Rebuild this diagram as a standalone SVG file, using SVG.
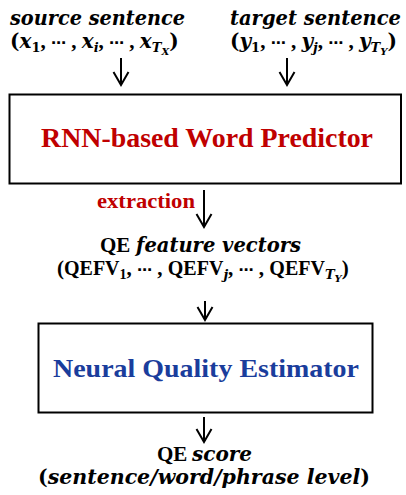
<svg xmlns="http://www.w3.org/2000/svg" width="406" height="495" viewBox="0 0 406 495">
<style>
.t{font-family:'DejaVu Serif','Liberation Serif',serif;font-weight:bold;fill:#000}
.u{font-family:'Liberation Serif','DejaVu Serif',serif;font-weight:bold}
.i{font-style:italic}
.s{font-size:13px}
.ss{font-size:10px}
.c{font-family:'Liberation Serif','DejaVu Serif',serif;font-size:21px}
.dots{font-family:'DejaVu Sans',sans-serif;font-size:15px}
.box{fill:#fff;stroke:#000;stroke-width:2}
.red{fill:#c00000}
.blue{fill:#1a3d9c}
.edge{fill:none;stroke:#000;stroke-width:2}
</style>
<defs>
<marker id="ah" markerUnits="userSpaceOnUse" markerWidth="30" markerHeight="30" refX="0" refY="0" orient="auto" overflow="visible">
<path d="M-13,-7.5 L0,0 L-13,7.5" fill="none" stroke="#000" stroke-width="2"/>
</marker>
</defs>
<g id="source">
<text class="t i" x="10" y="25" font-size="20" textLength="175" lengthAdjust="spacingAndGlyphs">source sentence</text>
<text class="t" x="10" y="48" font-size="20">(<tspan class="i">x</tspan><tspan class="s" dy="4">1</tspan><tspan class="c" dy="-4">, </tspan><tspan class="dots">⋯</tspan><tspan class="c"> , </tspan><tspan class="i">x</tspan><tspan class="s i" dy="4">i</tspan><tspan class="c" dy="-4">, </tspan><tspan class="dots">⋯</tspan><tspan class="c"> , </tspan><tspan class="i">x</tspan><tspan class="s i" dy="4">T</tspan><tspan class="ss i" dy="3">X</tspan><tspan dy="-7">)</tspan></text>
</g>
<g id="target">
<text class="t i" x="230" y="25" font-size="20" textLength="171" lengthAdjust="spacingAndGlyphs">target sentence</text>
<text class="t" x="230" y="48" font-size="20">(<tspan class="i">y</tspan><tspan class="s" dy="4">1</tspan><tspan class="c" dy="-4">, </tspan><tspan class="dots">⋯</tspan><tspan class="c"> , </tspan><tspan class="i">y</tspan><tspan class="s i" dy="4">j</tspan><tspan class="c" dy="-4">, </tspan><tspan class="dots">⋯</tspan><tspan class="c"> , </tspan><tspan class="i">y</tspan><tspan class="s i" dy="4">T</tspan><tspan class="ss i" dy="3">Y</tspan><tspan dy="-7">)</tspan></text>
</g>
<g id="predictor">
<rect class="box" x="9.5" y="94.5" width="391.5" height="89"/>
<text class="t u red" x="41" y="146.5" font-size="27" textLength="332" lengthAdjust="spacingAndGlyphs">RNN-based Word Predictor</text>
</g>
<g id="extraction">
<text class="t u red" x="97" y="208" font-size="20" textLength="98" lengthAdjust="spacingAndGlyphs">extraction</text>
</g>
<g id="features">
<text class="t" y="252" font-size="19.5"><tspan class="u" x="100" font-size="21">QE</tspan><tspan class="i" x="136">feature vectors</tspan></text>
<text class="t u" x="57" y="275" font-size="21">(<tspan font-size="20">QEFV</tspan><tspan font-size="14" dy="4">1</tspan><tspan dy="-4">, </tspan><tspan class="dots">⋯</tspan><tspan> , </tspan><tspan font-size="20">QEFV</tspan><tspan class="t s i" dy="4">j</tspan><tspan dy="-4">, </tspan><tspan class="dots">⋯</tspan><tspan> , </tspan><tspan font-size="20">QEFV</tspan><tspan class="t s i" dy="4">T</tspan><tspan class="t ss i" dy="3">Y</tspan><tspan dy="-7">)</tspan></text>
</g>
<g id="estimator">
<rect class="box" x="38.5" y="323.5" width="334" height="89"/>
<text class="t u blue" x="53" y="377" font-size="26" textLength="306" lengthAdjust="spacingAndGlyphs">Neural Quality Estimator</text>
</g>
<g id="score">
<text class="t" y="461" font-size="20"><tspan class="u" x="157" font-size="21">QE</tspan><tspan class="i" x="192">score</tspan></text>
<text class="t" x="38" y="484" font-size="20" textLength="332" lengthAdjust="spacingAndGlyphs">(<tspan class="i">sentence/word/phrase level</tspan>)</text>
</g>
<g id="connectors">
<path class="edge" d="M121,58 V85" marker-end="url(#ah)"/>
<path class="edge" d="M287,58 V85" marker-end="url(#ah)"/>
<path class="edge" d="M204,190 V227" marker-end="url(#ah)"/>
<path class="edge" d="M205,301 V320" marker-end="url(#ah)"/>
<path class="edge" d="M204,417 V442" marker-end="url(#ah)"/>
</g>
</svg>
